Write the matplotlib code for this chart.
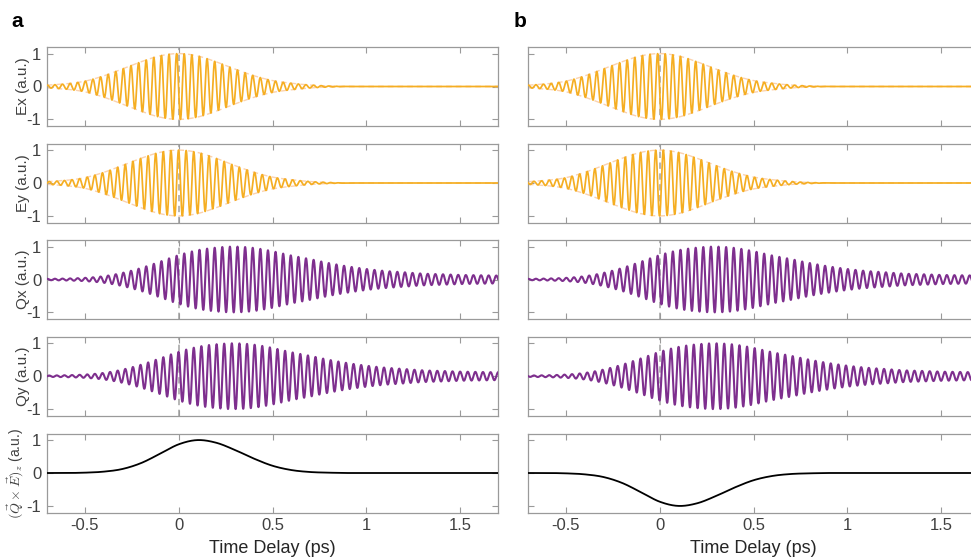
import numpy as np
import matplotlib
matplotlib.use("Agg")
import matplotlib.pyplot as plt

plt.rcParams['font.family'] = ['Liberation Sans', 'DejaVu Sans']
plt.rcParams['mathtext.fontset'] = 'cm'

# ---------------- data ----------------
# sample times (ps) at which envelopes / curves were read
t_samples = [-0.7, -0.6, -0.5, -0.4, -0.3, -0.2, -0.1, 0.0, 0.1, 0.2, 0.3, 0.4,
             0.5, 0.6, 0.7, 0.8, 0.9, 1.0, 1.1, 1.2, 1.3, 1.4, 1.5, 1.6, 1.7]
# envelope of the driving field Ex / Ey
e_envelope = [0.04, 0.08, 0.16, 0.32, 0.53, 0.75, 0.93, 1.0, 0.93, 0.75, 0.53, 0.33,
              0.18, 0.10, 0.045, 0.015, 0.0, 0.0, 0.0, 0.0, 0.0, 0.0, 0.0, 0.0, 0.0]
# envelope of the response Qx / Qy
q_envelope = [0.02, 0.03, 0.05, 0.10, 0.20, 0.35, 0.54, 0.74, 0.89, 0.97, 1.0, 0.96,
              0.86, 0.73, 0.62, 0.50, 0.40, 0.32, 0.26, 0.22, 0.18, 0.16, 0.14, 0.13, 0.12]
# (Q x E)_z, panel a and panel b
qe_a = [0.0, 0.0, 0.01, 0.04, 0.12, 0.30, 0.58, 0.87, 1.0, 0.92, 0.70, 0.44,
        0.22, 0.09, 0.03, 0.01, 0.0, 0.0, 0.0, 0.0, 0.0, 0.0, 0.0, 0.0, 0.0]
qe_b = [-0.0, -0.0, -0.01, -0.04, -0.12, -0.30, -0.58, -0.87, -1.0, -0.92, -0.70, -0.44,
        -0.22, -0.09, -0.03, -0.01, -0.0, -0.0, -0.0, -0.0, -0.0, -0.0, -0.0, -0.0, -0.0]
carrier_period = 0.0405          # ps, read from peak spacing
phase_x = [0.25, 0.25]           # carrier phase (cycles) of the x components, panels a, b
phase_y = [0.0, 0.5]             # carrier phase (cycles) of the y components, panels a, b
row_labels = ['Ex (a.u.)', 'Ey (a.u.)', 'Qx (a.u.)', 'Qy (a.u.)',
              r'$(\vec{Q}\times\vec{E})_z$ (a.u.)']
panel_letters = ['a', 'b']
x_ticks = [-0.5, 0, 0.5, 1, 1.5]
x_tick_labels = ['-0.5', '0', '0.5', '1', '1.5']
y_ticks = [-1, 0, 1]
y_tick_labels = ['-1', '0', '1']
x_label = 'Time Delay (ps)'


def hermite(x, xp, fp):
    """smooth (cubic Hermite) curve through the read sample points"""
    xp = np.asarray(xp, float)
    fp = np.asarray(fp, float)
    m = np.gradient(fp, xp)
    i = np.clip(np.searchsorted(xp, x) - 1, 0, len(xp) - 2)
    h = xp[i + 1] - xp[i]
    s = (x - xp[i]) / h
    h00 = 2 * s**3 - 3 * s**2 + 1
    h10 = s**3 - 2 * s**2 + s
    h01 = -2 * s**3 + 3 * s**2
    h11 = s**3 - s**2
    return h00 * fp[i] + h10 * h * m[i] + h01 * fp[i + 1] + h11 * h * m[i + 1]


t = np.linspace(-0.7, 1.7, 4000)
env_e = np.clip(hermite(t, t_samples, e_envelope), 0, None)
env_q = np.clip(hermite(t, t_samples, q_envelope), 0, None)

W, H = 971, 560
fig = plt.figure(figsize=(W / 100, H / 100), dpi=100)

orange = '#F5AE22'
peach = '#FBD2AE'
purple = '#7E2F8E'
spine_c = '#9a9a9a'
text_c = '#404040'

col_left = [47, 528]
ax_w = 451
row_tops = [47, 143.5, 240, 336.7, 433.5]
ax_h = 79

for c in range(2):
    for r in range(5):
        ax = fig.add_axes([col_left[c] / W, 1 - (row_tops[r] + ax_h) / H, ax_w / W, ax_h / H])
        ax.set_xlim(-0.7, 1.7)
        ax.set_ylim(-1.2, 1.2)
        if r < 4:
            ax.axvline(0, color='#b0b0b0', lw=1.3, ls=(0, (3.5, 2.5)), zorder=1)
        if r in (0, 1):
            ph = phase_x[c] if r == 0 else phase_y[c]
            y = env_e * np.cos(2 * np.pi * (t / carrier_period + ph))
            ax.plot(t, env_e, color=peach, lw=1.0, ls=(0, (4, 3)), zorder=2)
            ax.plot(t, -env_e, color=peach, lw=1.0, ls=(0, (4, 3)), zorder=2)
            ax.plot(t, y, color=orange, lw=1.25, zorder=3)
        elif r in (2, 3):
            ph = phase_x[c] if r == 2 else phase_y[c]
            y = env_q * np.cos(2 * np.pi * (t / carrier_period + ph))
            ax.plot(t, y, color=purple, lw=1.5, zorder=3)
        else:
            vals = qe_a if c == 0 else qe_b
            ax.plot(t, hermite(t, t_samples, vals), color='black', lw=1.3, zorder=3)

        ax.set_xticks(x_ticks)
        ax.set_yticks(y_ticks)
        ax.tick_params(direction='in', length=4, width=0.8, color=spine_c,
                       top=True, right=True, labelsize=12, labelcolor=text_c, pad=4)
        for sp in ax.spines.values():
            sp.set_color(spine_c)
            sp.set_linewidth(0.9)
        if r == 4:
            ax.set_xticklabels(x_tick_labels)
            ax.set_xlabel(x_label, fontsize=13, color='#262626', labelpad=5)
        else:
            ax.set_xticklabels([])
        if c == 0:
            ax.set_yticklabels(y_tick_labels)
            if r == 4:
                ax.set_ylabel(row_labels[r], fontsize=10, color=text_c)
                ax.yaxis.set_label_coords(-0.047, 0.5)
            else:
                ax.set_ylabel(row_labels[r], fontsize=11, color=text_c)
                ax.yaxis.set_label_coords(-0.037, 0.5)
        else:
            ax.set_yticklabels([])

fig.text(11 / W, 1 - 27 / H, panel_letters[0], fontsize=15, fontweight='bold', color='black')
fig.text(514 / W, 1 - 27 / H, panel_letters[1], fontsize=15, fontweight='bold', color='black')

fig.savefig('out.png', dpi=100)
